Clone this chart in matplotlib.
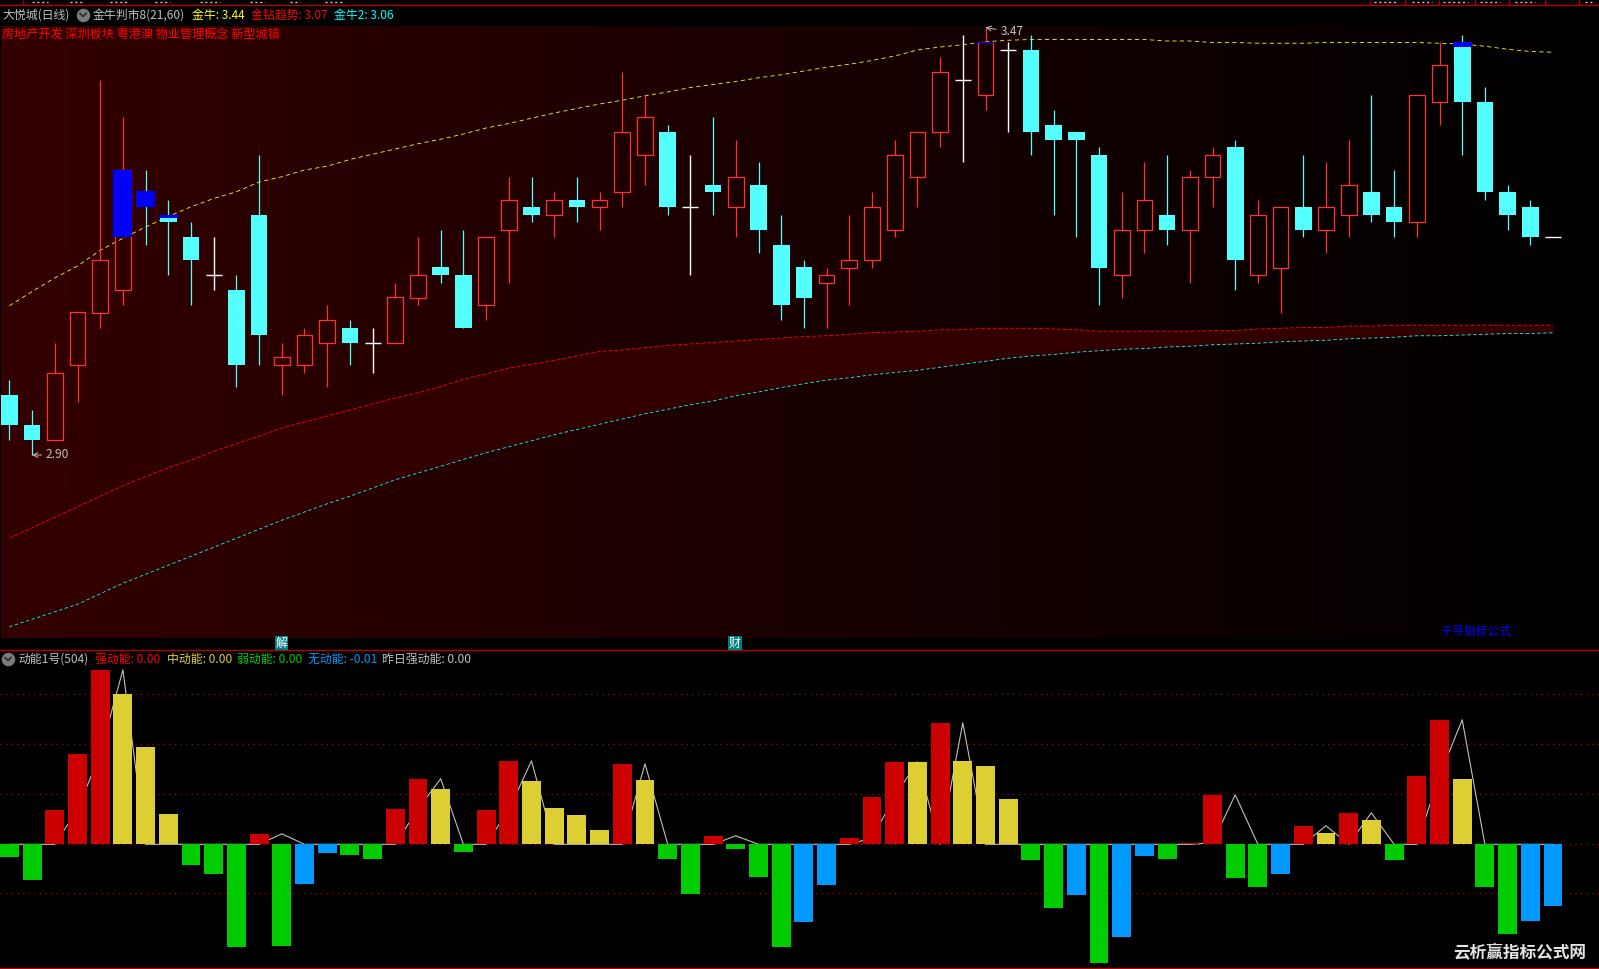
import numpy as np
import matplotlib
matplotlib.use("AGG")
import matplotlib.pyplot as plt
from matplotlib.colors import LinearSegmentedColormap

plt.rcParams['font.family'] = ['Noto Sans CJK SC', 'DejaVu Sans']

opens = [2.98, 2.94, 2.92, 3.02, 3.09, 3.12, 3.25, 3.22, 3.19, 3.14, 3.12, 3.22, 3.02, 3.02, 3.05, 3.07, 3.05, 3.05, 3.11, 3.15, 3.14, 3.10, 3.20,
         3.23, 3.22, 3.24, 3.23, 3.25, 3.30, 3.33, 3.23, 3.26, 3.23, 3.26, 3.18, 3.15, 3.13, 3.15, 3.16, 3.20, 3.27, 3.33, 3.40, 3.38, 3.44, 3.44,
         3.34, 3.33, 3.30, 3.14, 3.20, 3.22, 3.20, 3.27, 3.31, 3.14, 3.15, 3.23, 3.20, 3.22, 3.25, 3.23, 3.21, 3.37, 3.45, 3.37, 3.25, 3.23, 3.19]
highs = [3.00, 2.96, 3.05, 3.09, 3.40, 3.35, 3.28, 3.24, 3.21, 3.19, 3.14, 3.30, 3.05, 3.07, 3.10, 3.08, 3.07, 3.13, 3.19, 3.20, 3.20, 3.19, 3.27,
         3.27, 3.25, 3.27, 3.25, 3.41, 3.38, 3.34, 3.30, 3.35, 3.32, 3.29, 3.22, 3.16, 3.15, 3.22, 3.25, 3.32, 3.33, 3.43, 3.46, 3.47, 3.45, 3.46,
         3.36, 3.33, 3.31, 3.25, 3.29, 3.30, 3.28, 3.31, 3.32, 3.24, 3.23, 3.30, 3.29, 3.32, 3.38, 3.28, 3.38, 3.45, 3.46, 3.39, 3.26, 3.24, 3.19]
lows = [2.92, 2.90, 2.92, 2.97, 3.07, 3.10, 3.18, 3.14, 3.10, 3.12, 2.99, 3.02, 2.98, 3.01, 2.99, 3.02, 3.01, 3.05, 3.10, 3.13, 3.07, 3.08, 3.13,
        3.21, 3.19, 3.21, 3.20, 3.23, 3.26, 3.22, 3.14, 3.22, 3.19, 3.17, 3.08, 3.07, 3.07, 3.10, 3.15, 3.19, 3.23, 3.31, 3.29, 3.36, 3.33, 3.30,
        3.22, 3.19, 3.10, 3.11, 3.17, 3.18, 3.13, 3.23, 3.12, 3.13, 3.09, 3.19, 3.17, 3.19, 3.21, 3.19, 3.19, 3.34, 3.30, 3.24, 3.20, 3.18, 3.19]
closes = [2.94, 2.92, 3.01, 3.09, 3.16, 3.28, 3.23, 3.21, 3.16, 3.14, 3.02, 3.06, 3.03, 3.06, 3.08, 3.05, 3.05, 3.11, 3.14, 3.14, 3.07, 3.19, 3.24,
          3.22, 3.24, 3.23, 3.24, 3.33, 3.35, 3.23, 3.23, 3.25, 3.27, 3.20, 3.10, 3.11, 3.14, 3.16, 3.23, 3.30, 3.33, 3.41, 3.40, 3.45, 3.44, 3.33,
          3.32, 3.32, 3.15, 3.20, 3.24, 3.20, 3.27, 3.30, 3.16, 3.22, 3.23, 3.20, 3.23, 3.26, 3.22, 3.21, 3.38, 3.42, 3.37, 3.25, 3.22, 3.19, 3.19]

# 金牛 / 金钻趋势 / 金牛2
jinniu = [3.099, 3.118, 3.136, 3.152, 3.173, 3.189, 3.204, 3.218, 3.231, 3.242, 3.251, 3.264, 3.271, 3.280, 3.285, 3.294, 3.301, 3.308, 3.315, 3.321, 3.328, 3.336, 3.342,
          3.349, 3.356, 3.362, 3.368, 3.373, 3.379, 3.384, 3.390, 3.394, 3.398, 3.403, 3.407, 3.412, 3.417, 3.421, 3.426, 3.432, 3.440, 3.444, 3.447, 3.451, 3.453, 3.454,
          3.454, 3.454, 3.454, 3.454, 3.454, 3.452, 3.452, 3.450, 3.450, 3.449, 3.449, 3.449, 3.450, 3.450, 3.450, 3.450, 3.450, 3.449, 3.448, 3.445, 3.441, 3.438, 3.437]
jinzuan = [2.789, 2.803, 2.817, 2.831, 2.845, 2.859, 2.871, 2.883, 2.893, 2.905, 2.915, 2.925, 2.936, 2.944, 2.952, 2.960, 2.968, 2.976, 2.983, 2.991, 3.001, 3.008, 3.016,
           3.021, 3.026, 3.032, 3.038, 3.040, 3.043, 3.046, 3.048, 3.050, 3.052, 3.054, 3.056, 3.058, 3.059, 3.061, 3.063, 3.064, 3.065, 3.067, 3.067, 3.069, 3.069, 3.069,
           3.068, 3.067, 3.065, 3.065, 3.065, 3.065, 3.065, 3.066, 3.066, 3.068, 3.069, 3.070, 3.070, 3.072, 3.072, 3.073, 3.073, 3.073, 3.073, 3.073, 3.073, 3.073, 3.073]
jinniu2 = [2.671, 2.681, 2.691, 2.701, 2.715, 2.729, 2.741, 2.753, 2.765, 2.777, 2.789, 2.801, 2.813, 2.824, 2.835, 2.845, 2.856, 2.867, 2.876, 2.885, 2.894, 2.903, 2.911,
           2.919, 2.927, 2.934, 2.941, 2.948, 2.955, 2.961, 2.967, 2.972, 2.979, 2.984, 2.990, 2.995, 3.000, 3.003, 3.007, 3.010, 3.013, 3.017, 3.021, 3.025, 3.029, 3.032,
           3.034, 3.037, 3.039, 3.041, 3.042, 3.044, 3.045, 3.047, 3.048, 3.049, 3.051, 3.052, 3.053, 3.055, 3.056, 3.057, 3.059, 3.059, 3.060, 3.061, 3.062, 3.062, 3.063]

blue_idx = [5, 6, 7, 43, 64]
blue_top = [3.28, 3.252, 3.22, 3.451, 3.45]
blue_bot = [3.19, 3.23, 3.216, 3.449, 3.444]

# 动能 bars, r = 强, y = 中, g = 弱, b = 无
energy = [-0.25, -0.71, 0.69, 1.81, 3.49, 3.01, 1.95, 0.61, -0.41, -0.59, -2.05, 0.21, -2.03, -0.79, -0.17, -0.21, -0.29, 0.71, 1.31, 1.11, -0.15, 0.69, 1.67,
          1.27, 0.73, 0.59, 0.29, 1.61, 1.29, -0.29, -0.99, 0.17, -0.09, -0.65, -2.05, -1.55, -0.81, 0.13, 0.95, 1.65, 1.65, 2.43, 1.67, 1.57, 0.91, -0.31,
          -1.27, -1.01, -2.37, -1.85, -0.23, -0.29, 0.03, 0.99, -0.67, -0.85, -0.59, 0.37, 0.23, 0.63, 0.49, -0.31, 1.37, 2.49, 1.31, -0.85, -1.79, -1.53, -1.23]
energy_kind = "ggrrryyygggrgbbggrrygrr" + "yyyyryggrgggbbrrryryyygg" + "bgbbgrrggbryrygrryggbb"
yesterday = [0, 0, 0, 0.69, 1.81, 3.49, 0, 0, 0, 0, 0, 0, 0.21, 0, 0, 0, 0, 0, 0.71, 1.31, 0, 0, 0.69,
             1.67, 0, 0, 0, 0, 1.61, 0, 0, 0, 0.17, 0, 0, 0, 0, 0, 0.13, 0.95, 1.65, 0, 2.43, 0, 0, 0,
             0, 0, 0, 0, 0, 0, 0, 0.03, 0.99, 0, 0, 0, 0.37, 0, 0.63, 0, 0, 1.37, 2.49, 0, 0, 0, 0]
grid_levels = [3, 2, 1, 0, -0.98]

W, H = 1599, 969
X0, STEP = 9.4, 22.7
xlim = ((0 - X0) / STEP, (W - X0) / STEP)
idx = np.arange(len(opens))


def make_axes(top, bottom):
    ax = fig.add_axes([0, 1 - bottom / H, 1, (bottom - top) / H])
    ax.set_xlim(*xlim)
    ax.axis('off')
    return ax


fig = plt.figure(figsize=(W / 100, H / 100), dpi=100, facecolor='black')

# main chart
ax = make_axes(26, 638)
cmap = LinearSegmentedColormap.from_list('bg', ['#330000', '#000000'])
ax.imshow(np.linspace(0, 1, 512).reshape(1, -1), cmap=cmap, aspect='auto', extent=(xlim[0] + 1 / STEP, xlim[1], 2.656, 3.472), zorder=0)
ax.set_xlim(*xlim)
ax.set_ylim(2.656, 3.472)
ax.fill_between(idx, jinzuan, jinniu2, color='#330000', lw=0, zorder=1)
ax.plot(idx, jinniu, color='#ffff00', lw=0.6, ls=(0, (5, 4)), zorder=2)
ax.plot(idx, jinzuan, color='#ff0000', lw=0.6, ls=(0, (5, 2)), zorder=2)
ax.plot(idx, jinniu2, color='#00ffff', lw=0.6, ls=(0, (4, 3)), zorder=2)

RED, CYAN = '#ff3232', '#54ffff'
for i in idx:
    o, h, l, c = opens[i], highs[i], lows[i], closes[i]
    top, bot = max(o, c), min(o, c)
    if c > o:
        ax.vlines(i, top, h, color=RED, lw=0.9, zorder=3)
        ax.vlines(i, l, bot, color=RED, lw=0.9, zorder=3)
        ax.bar(i, top - bot, 0.69, bot, facecolor='none', edgecolor=RED, lw=0.9, zorder=3)
    elif c < o:
        ax.vlines(i, l, h, color=CYAN, lw=0.9, zorder=3)
        ax.bar(i, top - bot, 0.74, bot, color=CYAN, lw=0, zorder=3)
    else:
        ax.vlines(i, l, h, color='white', lw=1.0, zorder=3)
        ax.hlines(c, i - 0.35, i + 0.35, color='white', lw=1.0, zorder=3)

for i, t, b in zip(blue_idx, blue_top, blue_bot):
    ax.bar(i, t - b, 0.83, b, color='#0000ff', lw=0, zorder=4)

ax.annotate('3.47', xy=(43, 3.47), xytext=(43.65, 3.464), color='#c0c0c0', fontsize=8.6, va='center',
            arrowprops=dict(arrowstyle='->', color='#c0c0c0', lw=0.7, shrinkA=1, shrinkB=0), zorder=5)
ax.annotate('2.90', xy=(1, 2.90), xytext=(1.6, 2.90), color='#c0c0c0', fontsize=8.6, va='center',
            arrowprops=dict(arrowstyle='->', color='#c0c0c0', lw=0.7, shrinkA=1, shrinkB=0), zorder=5)

# 动能 panel
ax2 = make_axes(650, 968)
ax2.set_ylim(-2.474, 3.886)
for lv in grid_levels:
    ax2.axhline(lv, color='#b00000', lw=0.9, ls=(0, (1, 3.5)), zorder=1)
ax2.plot(idx, yesterday, color='#c0c0c0', lw=0.8, zorder=2)
kind_colors = {'r': '#cc0000', 'y': '#ddcf33', 'g': '#00cc00', 'b': '#0099ff'}
ax2.bar(idx, energy, 0.83, color=[kind_colors[k] for k in energy_kind], lw=0, zorder=3)

# overlay in pixel coordinates for header text and borders
ov = fig.add_axes([0, 0, 1, 1], facecolor='none')
ov.set_xlim(0, W)
ov.set_ylim(H, 0)
ov.axis('off')
BORDER = '#b40000'
for y in [5, 650.3, 968]:
    ov.axhline(y, color=BORDER, lw=1.0)
for x in [23, 1370, 1405, 1439, 1475, 1509, 1545, 1579]:
    ov.vlines(x, 0, 5, color=BORDER, lw=1.0)
# cut off status row above the top border, only the bottom of its glyphs is visible
for x0, x1 in [(32, 48), (70, 82), (110, 127), (155, 170), (200, 220), (250, 265), (290, 300), (325, 342), (1374, 1398), (1412, 1432), (1443, 1468),
               (1480, 1500), (1515, 1535), (1585, 1595)]:
    ov.hlines(1.5, x0, x1, color='#c8c8c8', lw=1.0, ls=(0, (1.5, 2)))


def header(x, y, s, color, **kw):
    ov.text(x, y, s, color=color, fontsize=8.6, va='center', ha='left', **kw)


def icon(x, y):
    ov.scatter([x], [y], s=95, color='#7a7a7a', lw=0, zorder=5)
    ov.plot([x - 3, x, x + 3], [y - 1.5, y + 1.5, y - 1.5], color='#2a2a2a', lw=1.2, zorder=6)


header(2.7, 15, '大悦城(日线)', '#c0c0c0')
icon(83, 15)
header(93, 15, '金牛判市8(21,60)', '#c0c0c0')
header(192, 15, '金牛: 3.44', '#ffff00')
header(251, 15, '金钻趋势: 3.07', '#ff0000')
header(334, 15, '金牛2: 3.06', '#00ffff')
ov.text(2, 34, '房地产开发 深圳板块 粤港澳 物业管理概念 新型城镇', color='#ff0000', fontsize=8.75, va='center')

icon(8, 659)
header(18, 659, '动能1号(504)', '#c0c0c0')
header(94.7, 659, '强动能: 0.00', '#ff0000')
header(167, 659, '中动能: 0.00', '#ddcf33')
header(237, 659, '弱动能: 0.00', '#00cc00')
header(308, 659, '无动能: -0.01', '#0099ff')
header(382, 659, '昨日强动能: 0.00', '#c0c0c0')

for x, s in [(281.5, '解'), (735, '财')]:
    ov.text(x, 643, s, color='white', fontsize=8.6, ha='center', va='center',
            bbox=dict(boxstyle='square,pad=0.05', facecolor='#008080', edgecolor='none'), zorder=6)

ov.text(1440, 631, '千寻指标公式', color='#0000ff', fontsize=8.6, va='center')
ov.text(1453, 952, '云析赢指标公式网', color='#e4e4e4', fontsize=12, fontweight='bold', va='center')

fig.savefig('out.png', dpi=100, facecolor='black')
